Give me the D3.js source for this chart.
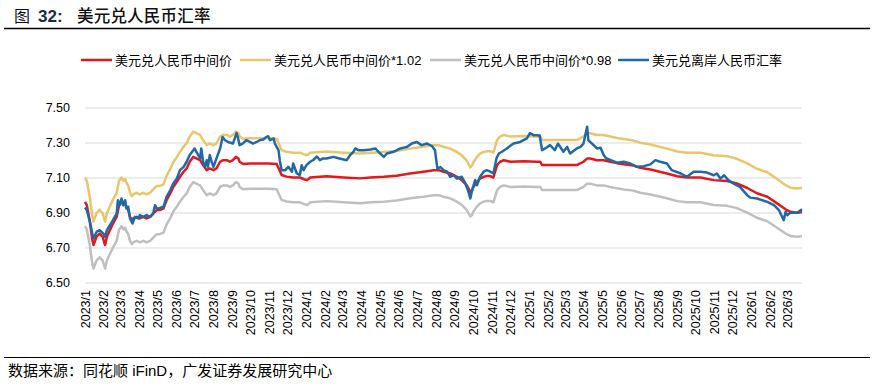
<!DOCTYPE html>
<html><head><meta charset="utf-8">
<script src="https://cdn.jsdelivr.net/npm/d3@7"></script>
<style>
body{margin:0;background:#fff;}
svg{display:block;}
text{font-family:"Liberation Sans",Arial,"Noto Sans CJK SC",sans-serif;}
</style></head><body>
<svg id="chart" width="874" height="389"></svg>
<script>
// ---- data ----
const midDates = ["2023-01-03","2023-01-06","2023-01-11","2023-01-15","2023-01-17","2023-01-22","2023-01-27","2023-02-01","2023-02-05","2023-02-08","2023-02-13","2023-02-18","2023-02-24","2023-02-28","2023-03-04","2023-03-07","2023-03-10","2023-03-12","2023-03-15","2023-03-18","2023-03-21","2023-03-23","2023-03-29","2023-04-03","2023-04-09","2023-04-14","2023-04-20","2023-04-25","2023-05-01","2023-05-06","2023-05-12","2023-05-17","2023-05-23","2023-05-28","2023-06-03","2023-06-08","2023-06-14","2023-06-19","2023-06-24","2023-06-30","2023-07-05","2023-07-11","2023-07-16","2023-07-22","2023-07-27","2023-08-02","2023-08-07","2023-08-13","2023-08-18","2023-08-24","2023-08-29","2023-09-03","2023-09-08","2023-09-12","2023-09-14","2023-09-20","2023-10-01","2023-10-17","2023-10-31","2023-11-14","2023-11-22","2023-11-30","2023-12-11","2023-12-22","2023-12-29","2024-01-03","2024-01-08","2024-02-04","2024-03-03","2024-03-30","2024-04-16","2024-05-08","2024-05-29","2024-06-20","2024-07-12","2024-07-29","2024-08-06","2024-08-14","2024-08-25","2024-08-31","2024-09-05","2024-09-13","2024-09-21","2024-09-27","2024-09-30","2024-10-02","2024-10-08","2024-10-13","2024-10-19","2024-10-24","2024-10-30","2024-11-04","2024-11-10","2024-11-15","2024-11-21","2024-12-02","2024-12-24","2025-01-14","2025-01-20","2025-01-23","2025-02-05","2025-02-27","2025-03-21","2025-04-01","2025-04-07","2025-04-12","2025-04-23","2025-05-04","2025-05-15","2025-05-26","2025-06-06","2025-06-22","2025-07-03","2025-07-20","2025-08-16","2025-09-02","2025-09-18","2025-10-10","2025-11-01","2025-11-23","2025-12-09","2025-12-26","2026-01-11","2026-01-28","2026-02-13","2026-02-27","2026-03-07","2026-03-18","2026-03-26"];
const midRate = [6.961,6.942,6.848,6.743,6.714,6.762,6.780,6.761,6.714,6.761,6.800,6.837,6.875,6.942,6.961,6.942,6.952,6.933,6.914,6.875,6.856,6.866,6.875,6.866,6.875,6.866,6.875,6.894,6.914,6.914,6.923,6.970,7.008,7.046,7.075,7.104,7.133,7.152,7.190,7.218,7.209,7.199,7.171,7.142,7.152,7.142,7.152,7.190,7.199,7.199,7.190,7.199,7.218,7.209,7.190,7.177,7.180,7.180,7.180,7.177,7.114,7.105,7.100,7.100,7.090,7.085,7.100,7.107,7.100,7.095,7.100,7.104,7.110,7.123,7.133,7.142,7.142,7.133,7.123,7.113,7.104,7.085,7.056,7.018,7.027,7.046,7.075,7.094,7.104,7.108,7.108,7.100,7.171,7.190,7.199,7.190,7.193,7.190,7.190,7.171,7.171,7.171,7.171,7.190,7.209,7.209,7.199,7.199,7.190,7.182,7.176,7.168,7.156,7.146,7.123,7.107,7.100,7.100,7.085,7.080,7.066,7.040,7.010,6.990,6.952,6.918,6.904,6.899,6.903];
// 中间价*1.02
const midRateUp = [7.100,7.081,6.985,6.878,6.848,6.897,6.916,6.896,6.848,6.896,6.936,6.974,7.013,7.081,7.100,7.081,7.091,7.072,7.052,7.013,6.993,7.003,7.013,7.003,7.013,7.003,7.013,7.032,7.052,7.052,7.061,7.109,7.148,7.187,7.217,7.246,7.276,7.295,7.334,7.362,7.353,7.343,7.314,7.285,7.295,7.285,7.295,7.334,7.343,7.343,7.334,7.343,7.362,7.353,7.334,7.321,7.324,7.324,7.324,7.321,7.256,7.247,7.242,7.242,7.232,7.227,7.242,7.249,7.242,7.237,7.242,7.246,7.252,7.265,7.276,7.285,7.285,7.276,7.265,7.255,7.246,7.227,7.197,7.158,7.168,7.187,7.217,7.236,7.246,7.250,7.250,7.242,7.314,7.334,7.343,7.334,7.337,7.334,7.334,7.314,7.314,7.314,7.314,7.334,7.353,7.353,7.343,7.343,7.334,7.326,7.320,7.311,7.299,7.289,7.265,7.249,7.242,7.242,7.227,7.222,7.207,7.181,7.150,7.130,7.091,7.056,7.042,7.037,7.041];
// 中间价*0.98
const midRateDown = [6.822,6.803,6.711,6.608,6.580,6.627,6.644,6.626,6.580,6.626,6.664,6.700,6.738,6.803,6.822,6.803,6.813,6.794,6.776,6.738,6.719,6.729,6.738,6.729,6.738,6.729,6.738,6.756,6.776,6.776,6.785,6.831,6.868,6.905,6.934,6.962,6.990,7.009,7.046,7.074,7.065,7.055,7.028,6.999,7.009,6.999,7.009,7.046,7.055,7.055,7.046,7.055,7.074,7.065,7.046,7.033,7.036,7.036,7.036,7.033,6.972,6.963,6.958,6.958,6.948,6.943,6.958,6.965,6.958,6.953,6.958,6.962,6.968,6.981,6.990,6.999,6.999,6.990,6.981,6.971,6.962,6.943,6.915,6.878,6.886,6.905,6.934,6.952,6.962,6.966,6.966,6.958,7.028,7.046,7.055,7.046,7.049,7.046,7.046,7.028,7.028,7.028,7.028,7.046,7.065,7.065,7.055,7.055,7.046,7.038,7.032,7.025,7.013,7.003,6.981,6.965,6.958,6.958,6.943,6.938,6.925,6.899,6.870,6.850,6.813,6.780,6.766,6.761,6.765];
// 美元兑离岸人民币汇率
const cnhDates = ["2023-01-03","2023-01-06","2023-01-11","2023-01-15","2023-01-17","2023-01-22","2023-01-27","2023-02-02","2023-02-05","2023-02-08","2023-02-13","2023-02-18","2023-02-24","2023-02-26","2023-03-01","2023-03-04","2023-03-07","2023-03-10","2023-03-12","2023-03-15","2023-03-18","2023-03-22","2023-03-26","2023-04-01","2023-04-03","2023-04-09","2023-04-14","2023-04-20","2023-04-25","2023-04-28","2023-05-01","2023-05-04","2023-05-12","2023-05-17","2023-05-23","2023-05-28","2023-06-03","2023-06-08","2023-06-14","2023-06-19","2023-06-24","2023-06-30","2023-07-02","2023-07-05","2023-07-11","2023-07-13","2023-07-16","2023-07-19","2023-07-22","2023-07-24","2023-07-27","2023-07-30","2023-08-02","2023-08-04","2023-08-07","2023-08-13","2023-08-17","2023-08-21","2023-08-26","2023-09-03","2023-09-09","2023-09-11","2023-09-14","2023-09-19","2023-09-25","2023-10-01","2023-10-06","2023-10-12","2023-10-17","2023-10-23","2023-10-28","2023-10-31","2023-11-03","2023-11-09","2023-11-11","2023-11-17","2023-11-19","2023-11-22","2023-11-28","2023-12-03","2023-12-09","2023-12-11","2023-12-17","2023-12-22","2023-12-25","2023-12-28","2024-01-02","2024-01-08","2024-01-13","2024-01-19","2024-01-24","2024-01-29","2024-02-04","2024-02-15","2024-02-25","2024-03-08","2024-03-14","2024-03-19","2024-03-22","2024-03-27","2024-04-05","2024-04-16","2024-04-24","2024-04-29","2024-05-08","2024-05-13","2024-05-24","2024-06-04","2024-06-15","2024-06-23","2024-07-01","2024-07-09","2024-07-18","2024-07-26","2024-07-31","2024-08-04","2024-08-09","2024-08-14","2024-08-20","2024-08-25","2024-08-31","2024-09-05","2024-09-13","2024-09-19","2024-09-24","2024-09-27","2024-09-30","2024-10-05","2024-10-08","2024-10-13","2024-10-19","2024-10-24","2024-10-30","2024-11-04","2024-11-09","2024-11-13","2024-11-18","2024-11-26","2024-12-07","2024-12-18","2024-12-29","2025-01-03","2025-01-09","2025-01-14","2025-01-19","2025-01-23","2025-01-28","2025-02-05","2025-02-13","2025-02-18","2025-02-27","2025-03-05","2025-03-10","2025-03-21","2025-03-27","2025-04-01","2025-04-07","2025-04-09","2025-04-15","2025-04-23","2025-04-29","2025-05-04","2025-05-08","2025-05-15","2025-05-26","2025-06-06","2025-06-17","2025-06-28","2025-07-09","2025-07-20","2025-07-28","2025-08-05","2025-08-16","2025-08-24","2025-09-08","2025-09-18","2025-09-29","2025-10-10","2025-10-21","2025-11-01","2025-11-06","2025-11-12","2025-11-18","2025-11-25","2025-12-03","2025-12-14","2025-12-26","2025-12-31","2026-01-11","2026-01-28","2026-02-08","2026-02-16","2026-02-24","2026-02-27","2026-03-02","2026-03-07","2026-03-18","2026-03-26"];
const cnhRate = [6.929,6.914,6.847,6.780,6.751,6.789,6.799,6.780,6.761,6.799,6.827,6.856,6.894,6.970,6.942,6.980,6.942,6.970,6.923,6.933,6.866,6.837,6.875,6.866,6.885,6.875,6.885,6.875,6.894,6.942,6.923,6.923,6.933,6.990,7.027,7.066,7.094,7.142,7.161,7.190,7.228,7.256,7.266,7.247,7.209,7.266,7.190,7.161,7.199,7.161,7.228,7.190,7.161,7.180,7.209,7.266,7.332,7.313,7.303,7.294,7.354,7.332,7.285,7.294,7.313,7.303,7.294,7.303,7.313,7.317,7.332,7.336,7.313,7.323,7.294,7.255,7.199,7.142,7.142,7.161,7.133,7.180,7.123,7.114,7.170,7.142,7.171,7.190,7.200,7.220,7.199,7.209,7.209,7.218,7.209,7.199,7.230,7.247,7.266,7.256,7.256,7.260,7.266,7.247,7.218,7.237,7.247,7.266,7.275,7.294,7.303,7.285,7.294,7.280,7.256,7.150,7.160,7.142,7.133,7.104,7.113,7.094,7.104,7.066,7.018,6.980,7.027,7.085,7.056,7.104,7.133,7.142,7.133,7.123,7.209,7.237,7.247,7.266,7.294,7.303,7.323,7.354,7.342,7.342,7.340,7.256,7.266,7.285,7.256,7.294,7.247,7.275,7.237,7.266,7.275,7.294,7.390,7.313,7.294,7.266,7.270,7.230,7.210,7.200,7.185,7.190,7.180,7.161,7.165,7.175,7.199,7.190,7.180,7.142,7.123,7.104,7.133,7.133,7.128,7.113,7.123,7.094,7.113,7.085,7.066,7.046,6.999,6.985,6.980,6.961,6.942,6.914,6.856,6.904,6.885,6.899,6.899,6.918];
const xTickLabels = ["2023/1","2023/2","2023/3","2023/4","2023/5","2023/6","2023/7","2023/8","2023/9","2023/10","2023/11","2023/12","2024/1","2024/2","2024/3","2024/4","2024/5","2024/6","2024/7","2024/8","2024/9","2024/10","2024/11","2024/12","2025/1","2025/2","2025/3","2025/4","2025/5","2025/6","2025/7","2025/8","2025/9","2025/10","2025/11","2025/12","2026/1","2026/2","2026/3"];
const yTicks = [6.50,6.70,6.90,7.10,7.30,7.50];
const seriesNames = ["美元兑人民币中间价","美元兑人民币中间价*1.02","美元兑人民币中间价*0.98","美元兑离岸人民币汇率"];
const seriesColors = ["#E3171D","#E8C66E","#BFBFBF","#1F69A6"];
const titleText = ["图","32:","美元兑人民币汇率"];
const sourceText = "数据来源：同花顺 iFinD，广发证券发展研究中心";

// ---- drawing ----
const parse = d3.timeParse("%Y-%m-%d");
const svg = d3.select("#chart");
const L = 85, R = 802, T = 107.5, B = 282.5;
const x = d3.scaleTime().domain([parse(midDates[0]), parse(midDates[midDates.length-1])]).range([L, R]);
const y = d3.scaleLinear().domain([6.5, 7.5]).range([B, T]);

// title
const titleG = svg.append("g").attr("fill", "#111");
titleG.append("text").attr("x", 14).attr("y", 22).attr("font-size", 16).style("font-family", "'Noto Sans CJK SC'").text(titleText[0]);
titleG.append("text").attr("x", 38).attr("y", 22).attr("font-size", 17).attr("font-weight", "bold").attr("fill", "#1a2a4a").text(titleText[1]);
titleG.append("text").attr("x", 77).attr("y", 22).attr("font-size", 16.5).attr("font-weight", 500).attr("letter-spacing", 0.2).style("font-family", "'Noto Sans CJK SC'").text(titleText[2]);
svg.append("line").attr("x1", 4).attr("x2", 870).attr("y1", 28.5).attr("y2", 28.5).attr("stroke", "#000").attr("stroke-width", 1.5);

// grid + y labels
const yAxis = d3.axisLeft(y).tickValues(yTicks).tickFormat(d3.format(".2f")).tickSize(-(R - L)).tickPadding(15);
const gy = svg.append("g").attr("transform", `translate(${L},0)`).call(yAxis);
gy.select(".domain").remove();
gy.selectAll(".tick line").attr("stroke", "#D9D9D9").attr("stroke-width", 1);
gy.selectAll(".tick text").attr("font-size", 12.5).attr("fill", "#000").style("font-family", "'Liberation Sans',Arial");

// x labels
const tickDate = s => { const [yy, mm] = s.split("/").map(Number); const d = new Date(yy, mm - 1, 1); return d < x.domain()[0] ? x.domain()[0] : d; };
const xAxis = d3.axisBottom(x).tickValues(xTickLabels.map(tickDate)).tickFormat((d, i) => xTickLabels[i]).tickSize(0).tickPadding(0);
const gx = svg.append("g").attr("transform", `translate(0,${B})`).call(xAxis);
gx.select(".domain").remove();
gx.selectAll(".tick text")
  .attr("transform", "translate(0,7.5) rotate(-90)")
  .attr("text-anchor", "end").attr("x", 0).attr("y", 0).attr("dy", "0.36em")
  .attr("font-size", 12.5).attr("fill", "#000").style("font-family", "'Liberation Sans',Arial");

// lines
const mk = (dates, vals) => dates.map((d, i) => ({ date: parse(d), v: vals[i] }));
const series = [mk(midDates, midRate), mk(midDates, midRateUp), mk(midDates, midRateDown), mk(cnhDates, cnhRate)];
const line = d3.line().x(d => x(d.date)).y(d => y(d.v));
svg.append("g").selectAll("path").data(series).join("path")
  .attr("d", line).attr("fill", "none")
  .attr("stroke", (d, i) => seriesColors[i]).attr("stroke-width", 2.5)
  .attr("stroke-linejoin", "round");

// legend
const legX = [81, 240, 430, 618];
const lg = svg.append("g");
seriesNames.forEach((n, i) => {
  lg.append("line").attr("x1", legX[i]).attr("x2", legX[i] + 31).attr("y1", 60).attr("y2", 60)
    .attr("stroke", seriesColors[i]).attr("stroke-width", 2.5);
  lg.append("text").attr("x", legX[i] + 34).attr("y", 60).attr("dy", "0.36em")
    .attr("font-size", 13).attr("fill", "#000").text(n);
});

// source
svg.append("line").attr("x1", 4).attr("x2", 870).attr("y1", 357.5).attr("y2", 357.5).attr("stroke", "#000").attr("stroke-width", 1.2);
svg.append("text").attr("x", 8).attr("y", 376).attr("font-size", 15).attr("fill", "#000").text(sourceText);
</script>
</body></html>
